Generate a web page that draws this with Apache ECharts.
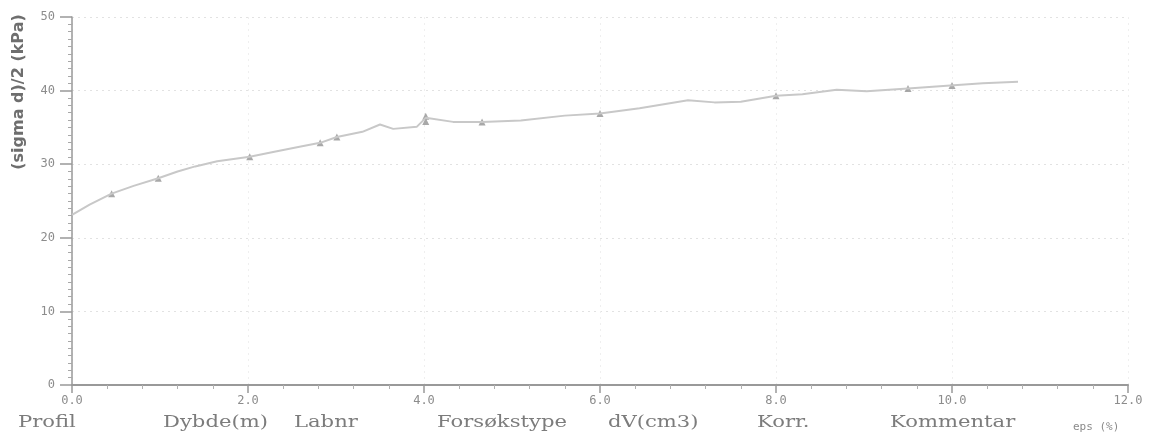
<!DOCTYPE html>
<html>
<head>
<meta charset="utf-8">
<style>
  html, body { margin: 0; padding: 0; background: #fff; }
  #chart { width: 1155px; height: 443px; }
</style>
<script src="https://cdn.jsdelivr.net/npm/echarts@6/dist/echarts.min.js"></script>
</head>
<body>
<div id="chart"></div>
<script>
// Half deviator stress vs. strain
const epsCurve = [0.0, 0.2, 0.45, 0.7, 0.98, 1.2, 1.4, 1.65, 2.02, 2.3, 2.6, 2.82, 3.01, 3.3, 3.5, 3.65, 3.92, 4.02, 4.33, 4.66, 5.1, 5.6, 6.0, 6.45, 7.0, 7.3, 7.6, 8.0, 8.3, 8.69, 9.03, 9.5, 9.98, 10.35, 10.75];
const stressCurve = [23.1, 24.5, 26.0, 27.05, 28.1, 29.0, 29.7, 30.4, 31.0, 31.7, 32.4, 32.9, 33.7, 34.4, 35.4, 34.8, 35.1, 36.3, 35.75, 35.75, 35.95, 36.6, 36.9, 37.6, 38.7, 38.4, 38.5, 39.3, 39.5, 40.1, 39.9, 40.3, 40.7, 41.0, 41.2];

// Recorded readings marked with triangles
const epsMarks = [0.45, 0.98, 2.02, 2.82, 3.01, 4.02, 4.02, 4.66, 6.0, 8.0, 9.5, 10.0];
const stressMarks = [26.0, 28.1, 31.0, 32.9, 33.7, 36.5, 35.8, 35.75, 36.9, 39.3, 40.3, 40.7];

// Axis ticks
const xTicks = [0, 2, 4, 6, 8, 10, 12];
const yTicks = [0, 10, 20, 30, 40, 50];

// Footer header row
const headers = ['Profil', 'Dybde(m)', 'Labnr', 'Forsøkstype', 'dV(cm3)', 'Korr.', 'Kommentar'];
const headerX = [18, 163, 294, 437, 608, 757, 890];

const chart = echarts.init(document.getElementById('chart'));

const axisGray = '#999999';
const textGray = '#8c8c8c';

const headerTexts = headers.map((h, i) => ({
  type: 'text',
  x: headerX[i],
  y: 423,
  scaleX: 1.32,
  style: {
    text: h,
    fill: '#7c7c7c',
    font: '16px "DejaVu Serif", "Liberation Serif", serif',
    textVerticalAlign: 'middle'
  }
}));

chart.setOption({
  animation: false,
  backgroundColor: '#ffffff',
  grid: { left: 72, right: 27, top: 17, bottom: 58 },
  xAxis: {
    type: 'value',
    min: xTicks[0],
    max: xTicks[xTicks.length - 1],
    interval: 2,
    axisLine: { onZero: false, lineStyle: { color: axisGray, width: 2 } },
    axisTick: { show: true, length: 8, lineStyle: { color: axisGray, width: 1.5 } },
    minorTick: { show: true, splitNumber: 5, length: 4, lineStyle: { color: '#b0b0b0', width: 1 } },
    axisLabel: {
      color: textGray, fontSize: 12, margin: 10,
      fontFamily: 'DejaVu Sans Mono',
      formatter: v => v.toFixed(1)
    },
    splitLine: { show: true, lineStyle: { color: '#efefef', type: [2, 4], width: 1 } }
  },
  yAxis: {
    type: 'value',
    min: yTicks[0],
    max: yTicks[yTicks.length - 1],
    interval: 10,
    axisLine: { show: true, lineStyle: { color: axisGray, width: 1.5 } },
    axisTick: { show: true, length: 12, lineStyle: { color: axisGray, width: 1.5 } },
    minorTick: { show: true, splitNumber: 10, length: 4, lineStyle: { color: '#a8a8a8', width: 1 } },
    axisLabel: { color: textGray, fontSize: 12, margin: 17, fontFamily: 'DejaVu Sans Mono' },
    splitLine: { show: true, lineStyle: { color: '#e2e2e2', type: [2, 4], width: 1 } }
  },
  graphic: headerTexts.concat([
    {
      type: 'text',
      x: 1073,
      y: 427,
      style: {
        text: 'eps (%)', fill: '#8a8a8a',
        font: '11px "DejaVu Sans Mono", monospace',
        textVerticalAlign: 'middle'
      }
    },
    {
      // rotated y-axis title
      type: 'text',
      x: 19,
      y: 92,
      rotation: Math.PI / 2,
      style: {
        text: '(sigma d)/2 (kPa)',
        fill: '#6e6e6e',
        font: 'bold 16px "DejaVu Sans", sans-serif',
        textAlign: 'center',
        textVerticalAlign: 'middle'
      }
    }
  ]),
  series: [
    {
      type: 'line',
      data: epsCurve.map((x, i) => [x, stressCurve[i]]),
      showSymbol: false,
      smooth: false,
      lineStyle: { color: '#c8c8c8', width: 2 }
    },
    {
      type: 'scatter',
      data: epsMarks.map((x, i) => [x, stressMarks[i]]),
      symbol: 'triangle',
      symbolSize: 7,
      itemStyle: { color: '#929292' }
    }
  ]
});
</script>
</body>
</html>
